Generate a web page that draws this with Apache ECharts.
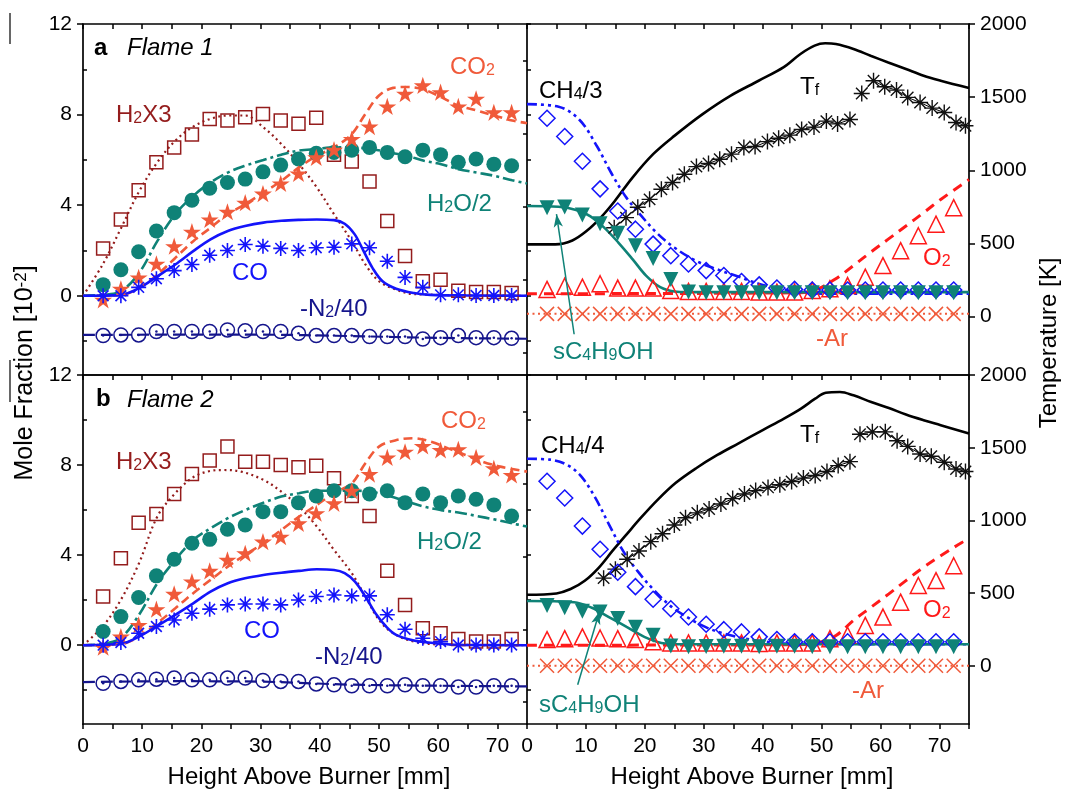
<!DOCTYPE html>
<html><head><meta charset="utf-8">
<script src="https://cdn.jsdelivr.net/npm/echarts@6/dist/echarts.min.js"></script>
<style>html,body{margin:0;padding:0;background:#fff}#c{width:1070px;height:792px}</style>
</head><body><div id="c"></div>
<script>
// ---------------- DATA ----------------
const hab = [3.4,6.4,9.4,12.4,15.4,18.4,21.4,24.4,27.4,30.4,33.4,36.4,39.4,42.4,45.4,48.4,51.4,54.4,57.4,60.4,63.4,66.4,69.4,72.4];
const xTickVals = [0,5,10,15,20,25,30,35,40,45,50,55,60,65,70,75];
const xLabelVals = [0,10,20,30,40,50,60,70];
const moleMajor = [0,4,8,12];
const moleMinor = [-2,2,6,10];
const moleAll = [-2,0,2,4,6,8,10,12];
const tMajor = [0,500,1000,1500,2000];
const tMinor = [-250,250,750,1250,1750];

// Flame 1 (panel a) measured
const h2Meas1  = [2.09,3.37,4.66,5.89,6.55,7.12,7.81,7.74,7.88,8.03,7.74,7.59,7.86,6.23,5.93,5.04,3.30,1.75,0.64,0.71,0.22,0.16,0.16,0.12];
const co2Meas1 = [-0.18,0.31,0.81,1.41,2.19,2.83,3.37,3.71,4.11,4.51,4.96,5.40,6.11,6.45,6.92,7.47,8.36,8.92,9.29,8.99,8.36,8.70,8.10,8.10];
const h2oMeas1 = [0.49,1.15,1.94,2.86,3.67,4.22,4.75,5.00,5.15,5.47,5.77,6.04,6.29,6.33,6.43,6.55,6.33,6.14,6.43,6.23,5.89,6.04,5.81,5.74];
const coMeas1  = [0.00,0.00,0.37,0.75,1.11,1.38,1.79,2.00,2.26,2.19,2.09,2.00,2.12,2.14,2.29,2.12,1.52,0.81,0.37,0.04,0.04,0.01,0.01,0.01];
const n2Meas1  = [-1.76,-1.73,-1.73,-1.58,-1.58,-1.58,-1.58,-1.51,-1.55,-1.58,-1.58,-1.66,-1.76,-1.76,-1.76,-1.80,-1.80,-1.80,-1.91,-1.85,-1.76,-1.85,-1.85,-1.88];
const ch4Meas1 = [7.84,7.03,5.94,4.72,3.74,2.94,2.28,1.77,1.40,1.11,0.89,0.63,0.48,0.34,0.28,0.25,0.25,0.25,0.25,0.25,0.25,0.25,0.25,0.25];
const fuelMeas1= [3.89,3.92,3.57,3.18,2.76,2.21,1.65,0.72,0.16,0.13,0.13,0.13,0.13,0.13,0.13,0.13,0.13,0.13,0.13,0.13,0.13,0.13,0.13,0.13];
const o2Meas1  = [0.28,0.42,0.38,0.53,0.34,0.34,0.34,0.23,0.19,0.19,0.19,0.19,0.16,0.16,0.16,0.23,0.31,0.45,0.82,1.33,1.99,2.65,3.16,3.89];
const arMeas1  = [-0.80,-0.80,-0.80,-0.80,-0.80,-0.80,-0.80,-0.80,-0.80,-0.80,-0.80,-0.80,-0.80,-0.80,-0.80,-0.80,-0.80,-0.80,-0.80,-0.80,-0.80,-0.80,-0.80,-0.80];
const tMeasX1a = [14.8,16.8,18.8,20.8,22.8,24.7,26.7,28.75,30.8,32.7,34.7,36.8,38.7,40.8,42.7,44.6,46.6,48.7,50.8,52.7,54.8];
const tMeas1a  = [607,676,747,801,870,916,973,1025,1046,1075,1110,1155,1162,1196,1219,1240,1279,1295,1336,1317,1347];
const tMeasX1b = [56.8,58.8,60.7,62.7,64.6,66.7,68.75,70.8,72.8,74.4];
const tMeas1b  = [1525,1612,1571,1548,1498,1463,1425,1395,1327,1304];

// Flame 1 models
const h2ModX1 = [0,3.33,6.36,9.46,12.55,15.59,18.62,21.54,24.46,27.38,30.47,33.5,36.5,39.5,42.4,45.4,47.7,50.0,52.9,55.9,75];
const h2Mod1  = [0,1.38,2.95,4.6,5.89,6.85,7.47,7.81,7.96,7.96,7.44,6.70,5.81,4.78,3.6,2.41,1.38,0.64,0.27,0.07,0];
const co2ModX1 = [0,6.36,9.46,12.55,15.59,18.62,21.54,24.46,27.38,30.47,33.5,36.5,39.5,42.4,45.4,47.7,50.0,52.4,54.7,57.6,60.5,63.4,66.5,69.4,72.5,75];
const co2Mod1  = [0,0.04,0.34,0.93,1.67,2.41,3.0,3.6,4.04,4.56,5.07,5.67,6.18,6.55,7.14,8.03,8.84,9.18,9.22,9.1,8.77,8.4,8.18,7.96,7.74,7.62];
const h2oModX1 = [0,3.33,6.36,9.46,12.55,15.59,18.62,21.54,24.46,27.38,30.47,33.5,36.5,39.5,42.4,45.4,48.6,51.7,54.7,57.6,60.5,63.4,66.5,69.4,72.5,75];
const h2oMod1  = [0,0.04,0.19,1.0,2.41,3.6,4.41,5.0,5.44,5.74,5.99,6.23,6.41,6.48,6.55,6.55,6.48,6.33,6.18,5.96,5.81,5.59,5.44,5.30,5.10,4.96];
const coModX1 = [0,6.36,9.46,12.55,15.59,18.62,21.54,24.46,27.38,30.47,33.5,36.5,39.5,42.4,44.2,45.9,47.4,48.9,50.6,52.9,55.9,58.7,65,75];
const coMod1  = [0,0.04,0.34,0.86,1.38,1.97,2.49,2.86,3.08,3.23,3.31,3.35,3.37,3.34,3.18,2.71,1.97,1.23,0.64,0.31,0.12,0.04,0.01,0];
const n2ModX1 = [0,15,30,45,60,75];
const n2Mod1  = [-1.73,-1.72,-1.72,-1.78,-1.86,-1.90];
const ch4ModX1 = [0,5.36,8.93,11.9,14.3,16.7,19.0,22.0,25.0,28.6,32.1,35.7,39.3,42.9,46.4,51.2,75];
const ch4Mod1  = [8.46,8.35,7.76,6.59,5.42,4.39,3.65,2.78,2.13,1.55,1.18,0.86,0.53,0.31,0.16,0.09,0.09];
const fuelModX1 = [0,5.36,8.33,10.7,13.1,15.5,17.9,20.2,22.6,25.0,27.4,75];
const fuelMod1  = [3.96,3.93,3.79,3.52,3.01,2.35,1.62,0.89,0.38,0.19,0.16,0.16];
const o2ModX1 = [0,46.4,49.4,52.4,55.4,58.3,61.3,64.3,67.3,70.2,75];
const o2Mod1  = [0.09,0.13,0.31,0.75,1.33,1.92,2.5,3.08,3.67,4.25,5.13];
const arModX1 = [0,75];
const arMod1  = [-0.80,-0.80];
const tModX1 = [0,4.8,7.7,10.1,12.5,14.9,17.9,21.4,25.0,29.8,34.5,39.3,43.5,46.4,48.8,50.6,52.4,55.4,58.3,61.3,64.3,67.3,70.2,75];
const tMod1  = [493,493,520,584,676,790,950,1110,1235,1384,1509,1612,1703,1795,1852,1868,1863,1829,1783,1737,1692,1646,1612,1562];

// Flame 2 (panel b) measured
const h2Meas2  = [2.16,3.86,5.44,5.83,6.72,7.60,8.20,8.82,8.15,8.15,8.00,7.90,7.97,7.41,6.63,5.74,3.31,1.79,0.75,0.53,0.27,0.16,0.16,0.27];
const co2Meas2 = [-0.09,0.38,0.90,1.60,2.28,2.83,3.30,3.79,4.08,4.60,4.82,5.41,5.86,6.30,6.86,7.60,8.34,8.59,8.85,8.67,8.70,8.34,7.86,7.56];
const h2oMeas2 = [0.61,1.27,2.12,3.08,3.82,4.53,4.70,5.15,5.34,5.93,5.93,6.33,6.63,6.86,6.86,6.72,6.86,6.33,6.72,6.33,6.63,6.48,6.23,5.74];
const coMeas2  = [0.00,0.12,0.53,0.83,1.12,1.42,1.60,1.79,1.83,1.83,1.79,2.01,2.16,2.23,2.19,2.19,1.35,0.71,0.31,0.16,0.01,0.01,0.01,0.01];
const n2Meas2  = [-1.69,-1.61,-1.54,-1.51,-1.46,-1.54,-1.54,-1.46,-1.46,-1.57,-1.61,-1.61,-1.72,-1.76,-1.80,-1.80,-1.80,-1.76,-1.80,-1.80,-1.86,-1.86,-1.80,-1.80];
const ch4Meas2 = [7.28,6.54,5.29,4.26,3.24,2.60,2.04,1.62,1.25,0.93,0.69,0.59,0.37,0.25,0.15,0.15,0.15,0.15,0.15,0.15,0.15,0.15,0.15,0.15];
const fuelMeas2= [1.76,1.66,1.51,1.47,1.19,0.80,0.44,-0.04,-0.07,-0.06,-0.05,-0.05,-0.07,-0.05,-0.05,-0.07,-0.07,-0.07,-0.07,-0.07,-0.07,-0.07,-0.07,-0.07];
const o2Meas2  = [0.25,0.29,0.37,0.32,0.29,0.25,0.15,0.10,0.10,0.10,0.10,0.10,0.07,0.10,0.10,0.10,0.29,0.44,0.88,1.25,1.91,2.65,2.87,3.53];
const arMeas2  = [-0.91,-0.91,-0.91,-0.91,-0.91,-0.91,-0.91,-0.91,-0.91,-0.91,-0.91,-0.91,-0.91,-0.91,-0.91,-0.91,-0.91,-0.91,-0.91,-0.91,-0.91,-0.91,-0.91,-0.91];
const tMeasX2a = [13.0,15.0,17.0,19.0,21.0,23.0,25.0,26.9,28.9,30.9,32.9,34.9,36.9,38.8,40.9,42.9,44.9,46.9,48.9,50.9,52.8,54.8];
const tMeas2a  = [603,665,733,790,854,908,968,1018,1052,1079,1113,1150,1182,1205,1227,1245,1268,1291,1309,1336,1377,1404];
const tMeasX2b = [56.5,58.6,60.8,62.8,64.6,66.7,68.6,70.8,72.8,74.4];
const tMeas2b  = [1593,1609,1609,1548,1509,1457,1441,1400,1354,1336];

// Flame 2 models
const h2ModX2 = [0,3.33,6.36,9.46,12.55,15.59,18.62,21.54,23.75,26.7,30.5,33.5,36.5,39.5,42.4,45.4,47.7,50.0,52.4,55.9,60.6,75];
const h2Mod2  = [0,0.83,2.0,3.64,5.71,6.75,7.46,7.74,7.78,7.71,7.34,6.82,6.15,5.27,4.23,3.2,2.16,1.12,0.53,0.16,0.03,0];
const co2ModX2 = [0,6.36,9.46,12.55,15.59,18.62,21.54,24.46,27.38,30.47,33.5,36.5,39.5,42.4,45.4,47.7,50.0,52.95,55.87,58.8,61.7,64.6,67.5,70.5,75];
const co2Mod2  = [0,0.06,0.38,0.98,1.64,2.31,2.9,3.49,4.01,4.53,5.12,5.71,6.23,6.75,7.19,8.08,8.82,9.11,9.19,9.04,8.74,8.45,8.15,7.93,7.71];
const h2oModX2 = [0,3.33,6.36,9.46,12.55,15.59,18.62,21.54,24.46,27.38,30.47,33.5,36.5,39.5,42.4,45.4,48.6,51.7,54.7,57.6,60.5,63.4,66.5,69.4,72.5,75];
const h2oMod2  = [0,0.06,0.31,1.35,2.75,3.79,4.67,5.19,5.64,6.0,6.33,6.6,6.75,6.86,6.86,6.86,6.82,6.63,6.38,6.15,6.0,5.89,5.74,5.59,5.41,5.27];
const coModX2 = [0,6.36,9.46,12.55,15.59,18.62,21.54,24.46,27.38,30.47,33.5,36.5,39.5,42.4,44.2,45.9,47.7,49.4,51.2,52.9,55.9,59.4,63.5,75];
const coMod2  = [0,0.06,0.38,0.86,1.35,1.86,2.38,2.75,2.97,3.12,3.22,3.3,3.37,3.34,3.2,2.83,2.16,1.42,0.83,0.46,0.21,0.09,0.01,0];
const n2ModX2 = [0,15,30,45,60,75];
const n2Mod2  = [-1.64,-1.60,-1.62,-1.75,-1.80,-1.83];
const ch4ModX2 = [0,3.9,6.8,9.2,11.6,13.9,16.3,18.7,21.6,24.6,27.6,30.5,33.5,37.0,40.6,44.2,75];
const ch4Mod2  = [8.28,8.24,8.01,7.5,6.54,5.37,4.19,3.31,2.43,1.69,1.18,0.78,0.51,0.29,0.15,0.07,0.04];
const fuelModX2 = [0,8.0,11.0,13.9,16.9,19.9,22.8,25.8,75];
const fuelMod2  = [1.96,1.91,1.66,1.25,0.81,0.37,0.10,0.04,0.04];
const o2ModX2 = [0,46.0,50.0,52.5,55.4,58.4,61.4,64.3,67.3,70.2,73.8,75];
const o2Mod2  = [0,0.02,0.15,0.44,1.1,1.69,2.28,2.87,3.46,3.97,4.56,4.71];
const arModX2 = [0,75];
const arMod2  = [-0.91,-0.91];
const tModX2 = [0,5,7.4,9.8,12.2,14.5,16.9,19.3,22.2,25.2,28.7,32.3,35.9,40.0,43.6,46.5,48.9,50.7,53.1,55.4,58.4,61.4,64.3,67.3,70.2,75];
const tMod2  = [489,498,528,585,676,790,904,1017,1143,1257,1359,1450,1530,1621,1700,1769,1837,1878,1883,1860,1814,1773,1728,1689,1655,1598];

// ---------------- STYLE ----------------
const FONT = '"Liberation Sans", Arial, Helvetica, sans-serif';
const C = {h2:'#941C1C', co2:'#F05A3A', h2o:'#0F8277', co:'#1414FA', n2:'#15158C', ch4:'#1414FA', t:'#000000', fuel:'#0F8277', o2:'#FF1A1A', ar:'#F05A3A'};
const SYM_AST = 'path://M7 0L7 14M0 7L14 7M2 2L12 12M2 12L12 2';
const SYM_X = 'path://M0 0L14 14M0 14L14 0';
const SYM_STAR = 'path://M10 0L12.25 6.91L19.51 6.91L13.63 11.18L15.88 18.09L10 13.82L4.12 18.09L6.37 11.18L0.49 6.91L7.75 6.91Z';

const rects = [
  {left:83, top:24, width:444, height:351},
  {left:527, top:24, width:442, height:351},
  {left:83, top:375, width:444, height:349},
  {left:527, top:375, width:442, height:349}
];
const grid = rects.concat(rects).map(r => Object.assign({}, r));
const lineS = {color:'#000', width:1.7};
const tickS = {color:'#000', width:1.5};
const fmt = v => String(v);
const lblS = {fontSize:21, fontFamily:FONT, color:'#000', formatter:fmt};

const xAxis = [];
for (let g = 0; g < 4; g++) {
  xAxis.push({type:'value', gridIndex:g, position:'bottom', min:0, max:75,
    axisLine:{show:true, onZero:false, lineStyle:lineS},
    axisTick:{show:g>=2, inside:false, length:5, customValues:xTickVals, lineStyle:tickS},
    axisLabel:Object.assign({show:g>=2, customValues:xLabelVals, margin:12}, lblS),
    splitLine:{show:false}});
  xAxis.push({type:'value', gridIndex:g, position:'top', min:0, max:75,
    axisLine:{show:true, onZero:false, lineStyle:lineS},
    axisTick:{show:true, inside:true, length:5, customValues:xTickVals, lineStyle:tickS},
    axisLabel:{show:false}, splitLine:{show:false}});
}
for (let g = 4; g < 8; g++) xAxis.push({type:'value', gridIndex:g, min:0, max:75, show:false});

const yAxis = [];
for (let g = 0; g < 4; g++) {
  if (g % 2 === 0) {
    yAxis.push({type:'value', gridIndex:g, position:'left', min:-3.5, max:12,
      axisLine:{show:true, onZero:false, lineStyle:lineS},
      axisTick:{show:true, inside:false, length:6, customValues:moleMajor, lineStyle:tickS},
      axisLabel:Object.assign({show:true, customValues:moleMajor, margin:11}, lblS),
      splitLine:{show:false}});
    yAxis.push({type:'value', gridIndex:g, position:'right', min:-3.5, max:12,
      axisLine:{show:true, onZero:false, lineStyle:lineS},
      axisTick:{show:true, inside:false, length:4, customValues:moleAll, lineStyle:tickS},
      axisLabel:{show:false}, splitLine:{show:false}});
  } else {
    yAxis.push({type:'value', gridIndex:g, position:'left', min:-3.5, max:12, show:false});
    yAxis.push({type:'value', gridIndex:g, position:'right', min:-400, max:2000,
      axisLine:{show:true, onZero:false, lineStyle:lineS},
      axisTick:{show:true, inside:false, length:6, customValues:tMajor, lineStyle:tickS},
      axisLabel:Object.assign({show:true, customValues:tMajor, margin:11}, lblS),
      splitLine:{show:false}});
  }
}
for (let g = 4; g < 8; g++) {
  if (g % 2 === 0) {
    yAxis.push({type:'value', gridIndex:g, position:'left', min:-3.5, max:12,
      axisLine:{show:false}, axisTick:{show:true, inside:true, length:4, customValues:moleMinor, lineStyle:tickS},
      axisLabel:{show:false}, splitLine:{show:false}});
  } else {
    yAxis.push({type:'value', gridIndex:g, position:'right', min:-400, max:2000,
      axisLine:{show:false}, axisTick:{show:true, inside:true, length:4, customValues:tMinor, lineStyle:tickS},
      axisLabel:{show:false}, splitLine:{show:false}});
  }
}

// ---------------- SERIES ----------------
const series = [];
function P(xs, ys) { return xs.map((x, i) => [x, ys[i]]); }
function addLine(g, yi, xs, ys, color, width, type, smooth) {
  series.push({type:'line', xAxisIndex:g*2, yAxisIndex:yi, data:P(xs, ys), symbol:'none', showSymbol:false,
    smooth:(smooth === undefined ? 0.35 : smooth), lineStyle:{color:color, width:width, type:type},
    silent:true, z:2, clip:true});
}
function addPts(g, yi, xs, ys, symbol, size, fill, stroke, bw, extra) {
  series.push(Object.assign({type:'scatter', xAxisIndex:g*2, yAxisIndex:yi, data:P(xs, ys), symbol:symbol,
    symbolSize:size, symbolKeepAspect:true, itemStyle:{color:fill, borderColor:stroke, borderWidth:bw, opacity:1},
    silent:true, z:3, clip:true}, extra || {}));
}
function addTMeas(g, xs, ys) {
  series.push({type:'line', xAxisIndex:g*2, yAxisIndex:g*2+1, data:P(xs, ys), symbol:SYM_AST, symbolSize:16,
    showSymbol:true, lineStyle:{color:'#000', width:1},
    itemStyle:{color:'rgba(0,0,0,0)', borderColor:'#111', borderWidth:1.4}, silent:true, z:3, clip:true});
}
const T = 'rgba(0,0,0,0)';

function leftPanel(g, d) {
  const yi = g*2;
  addLine(g, yi, d.h2ModX, d.h2Mod, C.h2, 2.2, [2, 3.5]);
  addLine(g, yi, d.co2ModX, d.co2Mod, C.co2, 2.6, [9, 5]);
  addLine(g, yi, d.h2oModX, d.h2oMod, C.h2o, 2.6, [12, 4, 3, 4]);
  addLine(g, yi, d.coModX, d.coMod, C.co, 2.6, 'solid');
  addLine(g, yi, d.n2ModX, d.n2Mod, C.n2, 2.2, [12, 6]);
  addPts(g, yi, hab, d.h2, 'rect', 13, T, C.h2, 1.5);
  addPts(g, yi, hab, d.h2o, 'circle', 15, C.h2o, C.h2o, 0);
  addPts(g, yi, hab, d.co2, SYM_STAR, 18, C.co2, C.co2, 0);
  addPts(g, yi, hab, d.co, SYM_AST, 15, T, C.co, 1.6);
  addPts(g, yi, hab, d.n2, 'circle', 14, T, C.n2, 1.5);
  addPts(g, yi, hab, d.n2, 'circle', 2.5, C.n2, C.n2, 0);
}
function rightPanel(g, d, arrow) {
  const yi = g*2, ti = g*2+1;
  addLine(g, ti, d.tModX, d.tMod, C.t, 2.6, 'solid');
  addTMeas(g, d.tMeasXa, d.tMeasA);
  addTMeas(g, d.tMeasXb, d.tMeasB);
  addLine(g, yi, d.arModX, d.arMod, C.ar, 2, [2, 3.5], false);
  addLine(g, yi, d.o2ModX, d.o2Mod, C.o2, 3, [10, 7]);
  addLine(g, yi, d.ch4ModX, d.ch4Mod, C.ch4, 2.6, [10, 4, 3, 4, 3, 4]);
  addLine(g, yi, d.fuelModX, d.fuelMod, C.fuel, 2.6, 'solid');
  addPts(g, yi, hab, d.ar, SYM_X, 14, T, C.ar, 1.5);
  addPts(g, yi, hab, d.o2, 'triangle', 16, T, C.o2, 1.5);
  addPts(g, yi, hab, d.ch4, 'diamond', 16, T, C.ch4, 1.5);
  addPts(g, yi, hab, d.fuel, 'triangle', 15, C.fuel, C.fuel, 0, {symbolRotate:180,
    markLine:{silent:true, symbol:['none','arrow'], symbolSize:[7,13], label:{show:false},
      lineStyle:{color:C.fuel, width:1.5, type:'solid'}, emphasis:{disabled:true},
      data:[[{coord:arrow[0]},{coord:arrow[1]}]]}});
}

leftPanel(0, {h2ModX:h2ModX1, h2Mod:h2Mod1, co2ModX:co2ModX1, co2Mod:co2Mod1, h2oModX:h2oModX1, h2oMod:h2oMod1,
  coModX:coModX1, coMod:coMod1, n2ModX:n2ModX1, n2Mod:n2Mod1,
  h2:h2Meas1, h2o:h2oMeas1, co2:co2Meas1, co:coMeas1, n2:n2Meas1});
leftPanel(2, {h2ModX:h2ModX2, h2Mod:h2Mod2, co2ModX:co2ModX2, co2Mod:co2Mod2, h2oModX:h2oModX2, h2oMod:h2oMod2,
  coModX:coModX2, coMod:coMod2, n2ModX:n2ModX2, n2Mod:n2Mod2,
  h2:h2Meas2, h2o:h2oMeas2, co2:co2Meas2, co:coMeas2, n2:n2Meas2});
rightPanel(1, {tModX:tModX1, tMod:tMod1, tMeasXa:tMeasX1a, tMeasA:tMeas1a, tMeasXb:tMeasX1b, tMeasB:tMeas1b,
  arModX:arModX1, arMod:arMod1, o2ModX:o2ModX1, o2Mod:o2Mod1, ch4ModX:ch4ModX1, ch4Mod:ch4Mod1,
  fuelModX:fuelModX1, fuelMod:fuelMod1, ar:arMeas1, o2:o2Meas1, ch4:ch4Meas1, fuel:fuelMeas1},
  [[8.0,-1.7],[5.0,3.6]]);
rightPanel(3, {tModX:tModX2, tMod:tMod2, tMeasXa:tMeasX2a, tMeasA:tMeas2a, tMeasXb:tMeasX2b, tMeasB:tMeas2b,
  arModX:arModX2, arMod:arMod2, o2ModX:o2ModX2, o2Mod:o2Mod2, ch4ModX:ch4ModX2, ch4Mod:ch4Mod2,
  fuelModX:fuelModX2, fuelMod:fuelMod2, ar:arMeas2, o2:o2Meas2, ch4:ch4Meas2, fuel:fuelMeas2},
  [[8.6,-1.76],[12.3,1.5]]);

// ---------------- TEXT ----------------
function rich(color, size) {
  return {
    n:{fontSize:size, lineHeight:size, fontFamily:FONT, fill:color, verticalAlign:'bottom'},
    s:{fontSize:Math.round(size*0.66), lineHeight:Math.round(size*0.54), fontFamily:FONT, fill:color, verticalAlign:'bottom'},
    u:{fontSize:Math.round(size*0.66), lineHeight:Math.round(size*0.54), fontFamily:FONT, fill:color, verticalAlign:'top'},
    b:{fontSize:size, lineHeight:size, fontFamily:FONT, fill:color, fontWeight:'bold', verticalAlign:'bottom'},
    i:{fontSize:size, lineHeight:size, fontFamily:FONT, fill:color, fontStyle:'italic', verticalAlign:'bottom'}
  };
}
function txt(str, color, x, y, opt) {
  opt = opt || {};
  const size = opt.size || 24;
  return {type:'text', x:x, y:y, rotation:opt.rot || 0, z:100, silent:true,
    style:{text:str, fill:color, align:opt.align || 'left', verticalAlign:'middle', fontSize:size, fontFamily:FONT, rich:rich(color, size)}};
}
const graphic = [
  txt('{b|a}', '#000', 94, 48), txt('{i|Flame 1}', '#000', 127, 48),
  txt('{n|H}{s|2}{n|X3}', C.h2, 116, 115),
  txt('{n|CO}{s|2}', C.co2, 450, 67),
  txt('{n|H}{s|2}{n|O/2}', C.h2o, 427, 204),
  txt('{n|CO}', C.co, 232, 273),
  txt('{n|-N}{s|2}{n|/40}', C.n2, 300, 309),
  txt('{n|CH}{s|4}{n|/3}', '#000', 539, 91),
  txt('{n|T}{s|f}', '#000', 800, 87),
  txt('{n|O}{s|2}', C.o2, 923, 258),
  txt('{n|-Ar}', C.ar, 816, 339),
  txt('{n|sC}{s|4}{n|H}{s|9}{n|OH}', C.fuel, 553, 352),
  txt('{b|b}', '#000', 96, 399), txt('{i|Flame 2}', '#000', 127, 400),
  txt('{n|H}{s|2}{n|X3}', C.h2, 116, 462),
  txt('{n|CO}{s|2}', C.co2, 441, 421),
  txt('{n|H}{s|2}{n|O/2}', C.h2o, 417, 542),
  txt('{n|CO}', C.co, 244, 631),
  txt('{n|-N}{s|2}{n|/40}', C.n2, 315, 657),
  txt('{n|CH}{s|4}{n|/4}', '#000', 541, 446),
  txt('{n|T}{s|f}', '#000', 800, 435),
  txt('{n|O}{s|2}', C.o2, 923, 610),
  txt('{n|-Ar}', C.ar, 852, 691),
  txt('{n|sC}{s|4}{n|H}{s|9}{n|OH}', C.fuel, 539, 705),
  txt('{n|Mole Fraction [10}{u|-2}{n|]}', '#000', 25, 373, {rot:Math.PI/2, align:'center', size:25}),
  txt('{n|Temperature [K]}', '#000', 1049, 343, {rot:Math.PI/2, align:'center'}),
  txt('{n|Height Above Burner [mm]}', '#000', 309, 777, {align:'center'}),
  txt('{n|Height Above Burner [mm]}', '#000', 752, 777, {align:'center'}),
  {type:'line', silent:true, shape:{x1:10, y1:13, x2:10, y2:44}, style:{stroke:'#000', lineWidth:1.2}},
  {type:'line', silent:true, shape:{x1:10, y1:360, x2:10, y2:402}, style:{stroke:'#000', lineWidth:1.2}}
];

const chart = echarts.init(document.getElementById('c'), null, {renderer:'canvas'});
chart.setOption({animation:false, backgroundColor:'#fff', grid:grid, xAxis:xAxis, yAxis:yAxis, series:series, graphic:graphic});
</script></body></html>
